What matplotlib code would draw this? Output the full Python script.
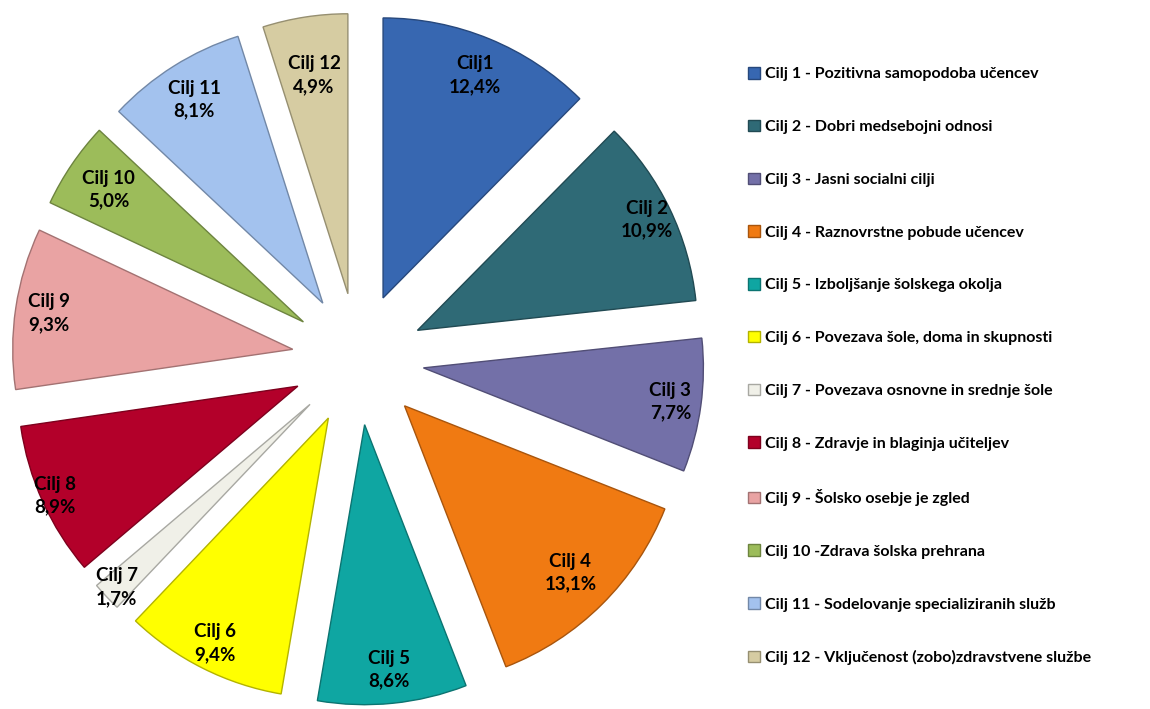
import numpy as np
import matplotlib
matplotlib.use('Agg')
import matplotlib.pyplot as plt
import matplotlib.colors as mcolors

plt.rcParams['font.family'] = ['Lato', 'DejaVu Sans']

# Podatki: deleži ciljev
oznake = ['Cilj1', 'Cilj 2', 'Cilj 3', 'Cilj 4', 'Cilj 5', 'Cilj 6',
          'Cilj 7', 'Cilj 8', 'Cilj 9', 'Cilj 10', 'Cilj 11', 'Cilj 12']
deleži = [12.4, 10.9, 7.7, 13.1, 8.6, 9.4, 1.7, 8.9, 9.3, 5.0, 8.1, 4.9]
legenda = ['Cilj 1 - Pozitivna samopodoba učencev',
           'Cilj 2 - Dobri medsebojni odnosi',
           'Cilj 3 - Jasni socialni cilji',
           'Cilj 4 - Raznovrstne pobude učencev',
           'Cilj 5 - Izboljšanje šolskega okolja',
           'Cilj 6 - Povezava šole, doma in skupnosti',
           'Cilj 7 - Povezava osnovne in srednje šole',
           'Cilj 8 - Zdravje in blaginja učiteljev',
           'Cilj 9 - Šolsko osebje je zgled',
           'Cilj 10 -Zdrava šolska prehrana',
           'Cilj 11 - Sodelovanje specializiranih služb',
           'Cilj 12 - Vključenost (zobo)zdravstvene službe']
barve = ['#3767b1', '#2f6a76', '#7370a8', '#f07a12', '#0fa6a2', '#ffff00',
         '#f0f0e8', '#b3002a', '#e9a3a3', '#9cbc5a', '#a3c2ee', '#d6cca2']

# razdalja napisov od središča (delež polmera)
razdalje = [0.86, 0.91, 0.89, 0.84, 0.88, 0.90, 0.95, 0.95, 0.88, 0.84, 0.86, 0.79]

fig = plt.figure(figsize=(11.5, 7.09), dpi=100)
ax = fig.add_axes([0, 0, 1, 1])

R = 280
robne = [tuple(np.array(mcolors.to_rgb(c)) * 0.7) for c in barve]
# explode je v enotah podatkov (piksli)
wedges, _ = ax.pie(deleži, colors=barve, startangle=90, counterclock=False,
                   center=(358, 350), radius=R, explode=[66] * 12,
                   wedgeprops=dict(linewidth=1.0), frame=True)
for w, ec in zip(wedges, robne):
    w.set_edgecolor(ec)

ax.set_xlim(0, 1150)
ax.set_ylim(0, 709)
ax.set_aspect('equal')
ax.axis('off')

# napisi v izsekih
for w, o, d, r in zip(wedges, oznake, deleži, razdalje):
    kot = np.deg2rad((w.theta1 + w.theta2) / 2)
    x = w.center[0] + r * w.r * np.cos(kot)
    y = w.center[1] + r * w.r * np.sin(kot)
    besedilo = o + '\n' + f'{d:.1f}'.replace('.', ',') + '%'
    ax.text(x, y, besedilo, ha='center', va='center', fontsize=13.5,
            fontweight='bold', linespacing=1.4)

leg = ax.legend(wedges, legenda, loc='upper left',
                bbox_to_anchor=(748 / 1150, 1 - 67 / 709),
                frameon=False, fontsize=11.5, labelspacing=2.4,
                handlelength=0.75, handleheight=0.75, handletextpad=0.3,
                borderpad=0, borderaxespad=0)
for t in leg.get_texts():
    t.set_fontweight('bold')

plt.savefig('out.png', dpi=100)
